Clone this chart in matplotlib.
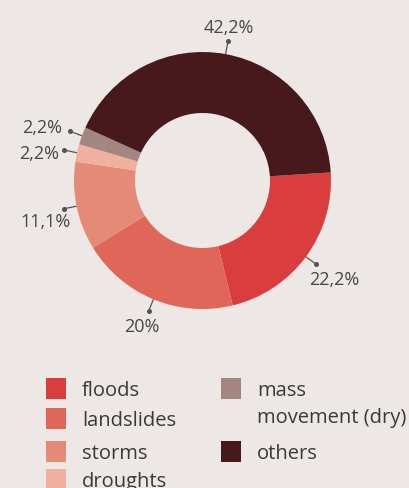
import numpy as np
import matplotlib
matplotlib.use("Agg")
import matplotlib.pyplot as plt
from matplotlib.patches import Rectangle

categories = ["floods", "landslides", "storms", "droughts", "mass\nmovement (dry)", "others"]
values = [22.2, 20.0, 11.1, 2.2, 2.2, 42.2]
labels = ["22,2%", "20%", "11,1%", "2,2%", "2,2%", "42,2%"]
colors = ["#d93d3d", "#e0665a", "#e68a78", "#efb0a0", "#a38680", "#47191c"]

# label text offsets from leader-line end (pixels, x right / y up)
label_offsets = [(18, -15), (-7, -15), (-18, -12), (-25, -3), (-28, 4), (1, 14)]

BG = "#ede8e5"
TXT = "#474747"
plt.rcParams['font.family'] = ['Open Sans', 'DejaVu Sans']

W, H = 410, 489
fig = plt.figure(figsize=(W / 100, H / 100), dpi=100, facecolor=BG)
ax = fig.add_axes([0, 0, 1, 1])
ax.set_facecolor(BG)

cx, cy = 202.5, H - 181.5
R = 128.5
wedges, _ = ax.pie(values, colors=colors, startangle=3.6, counterclock=False,
                   center=(cx, cy), radius=R,
                   wedgeprops=dict(width=R - 67.5, edgecolor='none', linewidth=0))
ax.set_xlim(0, W)
ax.set_ylim(0, H)
ax.set_aspect('equal')
ax.axis('off')

for w, lab, off in zip(wedges, labels, label_offsets):
    ang = np.deg2rad((w.theta1 + w.theta2) / 2)
    c, s = np.cos(ang), np.sin(ang)
    x0, y0 = cx + R * c, cy + R * s
    x1, y1 = cx + 1.10 * R * c, cy + 1.10 * R * s
    ax.plot([x0, x1], [y0, y1], color="#555555", lw=0.9, solid_capstyle='butt')
    ax.plot([x1], [y1], 'o', color="#555555", ms=2.6)
    ax.text(x1 + off[0], y1 + off[1], lab, ha='center', va='center',
            fontsize=13, color=TXT)

# legend
col_x = [46, 221]
rows = [[379, 409, 442, 470], [379, 442]]
groups = [[0, 1, 2, 3], [4, 5]]
for ci, grp in enumerate(groups):
    for ri, idx in enumerate(grp):
        top = rows[ci][ri]
        ax.add_patch(Rectangle((col_x[ci], H - top - 20.5), 20.5, 20.5,
                               facecolor=colors[idx], edgecolor='none'))
        lines = categories[idx].split("\n")
        for li, line in enumerate(lines):
            ax.text(col_x[ci] + 36, H - (top + 12 + li * 27), line,
                    ha='left', va='center', fontsize=14.5, color="#3a3a3a")

fig.savefig("out.png", dpi=100, facecolor=BG)
